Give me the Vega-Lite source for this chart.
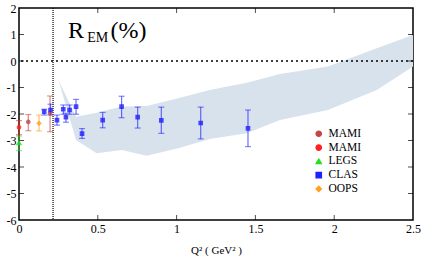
{
  "$schema": "https://vega.github.io/schema/vega-lite/v6.json",
  "width": 394,
  "height": 212,
  "autosize": "none",
  "padding": {"left": 19, "top": 8, "right": 14, "bottom": 41},
  "config": {
    "view": {"stroke": "black", "strokeWidth": 1.5},
    "font": "Liberation Serif",
    "axis": {
      "grid": false,
      "domain": false,
      "ticks": false,
      "labelPadding": 3,
      "labelFont": "Liberation Serif",
      "labelFontSize": 12,
      "labelColor": "black",
      "labelFlush": false,
      "titleFont": "Liberation Serif",
      "titleFontWeight": "normal",
      "titleColor": "black"
    },
    "legend": {
      "orient": "none", "legendX": 294, "legendY": 120, "title": null, "padding": 0,
      "labelFont": "Liberation Serif", "labelFontSize": 11.5, "labelColor": "black", "labelOffset": 4,
      "symbolSize": 30, "symbolStrokeWidth": 1.2, "rowPadding": 0.8, "symbolOpacity": 1,
      "symbolFillColor": "transparent"
    }
  },
  "resolve": {"axis": {"x": "independent", "y": "independent"}},
  "layer": [
    {
      "data": {"values": [
        {"q": 0.25, "hi": -0.72, "lo": -0.72},
        {"q": 0.362, "hi": -2.1, "lo": -2.98},
        {"q": 0.493, "hi": -1.95, "lo": -3.48},
        {"q": 0.652, "hi": -1.72, "lo": -3.36},
        {"q": 0.81, "hi": -1.7, "lo": -3.58},
        {"q": 1.01, "hi": -1.41, "lo": -3.29},
        {"q": 1.21, "hi": -1.09, "lo": -2.94},
        {"q": 1.445, "hi": -0.82, "lo": -2.73},
        {"q": 1.656, "hi": -0.49, "lo": -2.23},
        {"q": 1.96, "hi": -0.21, "lo": -1.85},
        {"q": 2.27, "hi": 0.48, "lo": -1.09},
        {"q": 2.5, "hi": 0.98, "lo": -0.21}
      ]},
      "mark": {"type": "area", "color": "#d8e2ec", "opacity": 1},
      "encoding": {
        "x": {"field": "q", "type": "quantitative",
          "scale": {"domain": [0, 2.5], "nice": false, "zero": false},
          "axis": {"orient": "bottom", "values": [0, 0.5, 1, 1.5, 2, 2.5], "labelExpr": "'' + datum.value", "title": "Q²  ( GeV² )", "titleFontSize": 11, "titlePadding": 10}},
        "y": {"field": "hi", "type": "quantitative",
          "scale": {"domain": [-6, 2], "nice": false, "zero": false},
          "axis": {"orient": "left", "values": [-6, -5, -4, -3, -2, -1, 0, 1, 2], "labelExpr": "'' + datum.value", "title": null}},
        "y2": {"field": "lo"}
      }
    },
    {
      "data": {"values": [{"q": 0.216}]},
      "mark": {"type": "rule", "color": "black", "strokeDash": [1, 1], "strokeWidth": 1.2},
      "encoding": {"x": {"field": "q", "type": "quantitative", "axis": null}}
    },
    {
      "data": {"values": [{"r": 0}]},
      "mark": {"type": "rule", "color": "black", "strokeDash": [2, 3], "strokeWidth": 1.5},
      "encoding": {"y": {"field": "r", "type": "quantitative", "axis": null}}
    },
    {
      "data": {"values": [{"v": 0.5}, {"v": 1}, {"v": 1.5}, {"v": 2}]},
      "layer": [
        {
          "mark": {"type": "tick", "orient": "vertical", "size": 5, "thickness": 1, "color": "black", "yOffset": -2.5},
          "encoding": {"x": {"field": "v", "type": "quantitative", "axis": null}, "y": {"datum": -6, "axis": null}}
        },
        {
          "mark": {"type": "tick", "orient": "vertical", "size": 5, "thickness": 1, "color": "black", "yOffset": 2.5},
          "encoding": {"x": {"field": "v", "type": "quantitative", "axis": null}, "y": {"datum": 2, "axis": null}}
        }
      ]
    },
    {
      "data": {"values": [{"v": -5}, {"v": -4}, {"v": -3}, {"v": -2}, {"v": -1}, {"v": 0}, {"v": 1}]},
      "layer": [
        {
          "mark": {"type": "tick", "orient": "horizontal", "size": 5, "thickness": 1, "color": "black", "xOffset": 2.5},
          "encoding": {"y": {"field": "v", "type": "quantitative", "axis": null}, "x": {"datum": 0, "axis": null}}
        },
        {
          "mark": {"type": "tick", "orient": "horizontal", "size": 5, "thickness": 1, "color": "black", "xOffset": -2.5},
          "encoding": {"y": {"field": "v", "type": "quantitative", "axis": null}, "x": {"datum": 2.5, "axis": null}}
        }
      ]
    },
    {
      "data": {"name": "pts", "values": [
        {"series": "MAMI2", "q": 0, "r": -2.5, "lo": -2.78, "hi": -2.25},
        {"series": "LEGS", "q": 0, "r": -3.1, "lo": -3.38, "hi": -2.83},
        {"series": "MAMI1", "q": 0.059, "r": -2.3, "lo": -2.63, "hi": -2.02},
        {"series": "OOPS", "q": 0.127, "r": -2.35, "lo": -2.64, "hi": -2.04},
        {"series": "MAMI1", "q": 0.197, "r": -1.97, "lo": -2.67, "hi": -1.32},
        {"series": "CLAS", "q": 0.16, "r": -1.91, "lo": -2.04, "hi": -1.82},
        {"series": "CLAS", "q": 0.2, "r": -1.85, "lo": -2.04, "hi": -1.63},
        {"series": "CLAS", "q": 0.241, "r": -2.23, "lo": -2.42, "hi": -2.04},
        {"series": "CLAS", "q": 0.281, "r": -1.82, "lo": -2.01, "hi": -1.66},
        {"series": "CLAS", "q": 0.298, "r": -2.12, "lo": -2.31, "hi": -1.97},
        {"series": "CLAS", "q": 0.321, "r": -1.85, "lo": -2.01, "hi": -1.66},
        {"series": "CLAS", "q": 0.362, "r": -1.72, "lo": -2.01, "hi": -1.45},
        {"series": "CLAS", "q": 0.4, "r": -2.74, "lo": -2.92, "hi": -2.55},
        {"series": "CLAS", "q": 0.531, "r": -2.23, "lo": -2.52, "hi": -1.94},
        {"series": "CLAS", "q": 0.651, "r": -1.72, "lo": -2.14, "hi": -1.33},
        {"series": "CLAS", "q": 0.753, "r": -2.12, "lo": -2.53, "hi": -1.74},
        {"series": "CLAS", "q": 0.903, "r": -2.24, "lo": -2.73, "hi": -1.74},
        {"series": "CLAS", "q": 1.153, "r": -2.34, "lo": -2.94, "hi": -1.74},
        {"series": "CLAS", "q": 1.453, "r": -2.54, "lo": -3.23, "hi": -1.85}
      ]},
      "layer": [
        {
          "mark": {"type": "rule", "strokeWidth": 1.2, "opacity": 0.65},
          "encoding": {
            "x": {"field": "q", "type": "quantitative", "axis": null},
            "y": {"field": "lo", "type": "quantitative", "axis": null},
            "y2": {"field": "hi"},
            "color": {"field": "series", "type": "nominal",
              "scale": {"domain": ["MAMI1", "MAMI2", "LEGS", "CLAS", "OOPS"], "range": ["#c04848", "#ff2020", "#20e020", "#2020ff", "#ffa020"]},
              "legend": {"labelExpr": "datum.label == 'MAMI1' || datum.label == 'MAMI2' ? 'MAMI' : datum.label"}}
          }
        },
        {
          "mark": {"type": "tick", "orient": "horizontal", "size": 6, "thickness": 1.2, "opacity": 0.55},
          "encoding": {
            "x": {"field": "q", "type": "quantitative", "axis": null},
            "y": {"field": "lo", "type": "quantitative", "axis": null},
            "color": {"field": "series", "type": "nominal",
              "legend": {"labelExpr": "datum.label == 'MAMI1' || datum.label == 'MAMI2' ? 'MAMI' : datum.label"}}
          }
        },
        {
          "mark": {"type": "tick", "orient": "horizontal", "size": 6, "thickness": 1.2, "opacity": 0.55},
          "encoding": {
            "x": {"field": "q", "type": "quantitative", "axis": null},
            "y": {"field": "hi", "type": "quantitative", "axis": null},
            "color": {"field": "series", "type": "nominal",
              "legend": {"labelExpr": "datum.label == 'MAMI1' || datum.label == 'MAMI2' ? 'MAMI' : datum.label"}}
          }
        },
        {
          "mark": {"type": "point", "filled": false, "size": 6, "strokeWidth": 2.2, "opacity": 0.8},
          "encoding": {
            "x": {"field": "q", "type": "quantitative", "axis": null},
            "y": {"field": "r", "type": "quantitative", "axis": null},
            "color": {"field": "series", "type": "nominal",
              "legend": {"labelExpr": "datum.label == 'MAMI1' || datum.label == 'MAMI2' ? 'MAMI' : datum.label"}},
            "shape": {"field": "series", "type": "nominal",
              "scale": {"domain": ["MAMI1", "MAMI2", "LEGS", "CLAS", "OOPS"], "range": ["circle", "circle", "triangle-up", "square", "diamond"]},
              "legend": {"labelExpr": "datum.label == 'MAMI1' || datum.label == 'MAMI2' ? 'MAMI' : datum.label"}}
          }
        }
      ]
    },
    {
      "data": {"values": [{"label": "R"}]},
      "mark": {"type": "text", "fontSize": 24, "align": "left", "baseline": "alphabetic", "font": "Liberation Serif", "color": "black"},
      "encoding": {"x": {"datum": 0.311, "axis": null}, "y": {"datum": 0.87, "axis": null}, "text": {"field": "label"}}
    },
    {
      "data": {"values": [{"label": "EM"}]},
      "mark": {"type": "text", "fontSize": 14, "align": "left", "baseline": "alphabetic", "font": "Liberation Serif", "color": "black"},
      "encoding": {"x": {"datum": 0.433, "axis": null}, "y": {"datum": 0.72, "axis": null}, "text": {"field": "label"}}
    },
    {
      "data": {"values": [{"label": "(%)"}]},
      "mark": {"type": "text", "fontSize": 24, "align": "left", "baseline": "alphabetic", "font": "Liberation Serif", "color": "black"},
      "encoding": {"x": {"datum": 0.58, "axis": null}, "y": {"datum": 0.87, "axis": null}, "text": {"field": "label"}}
    }
  ]
}
